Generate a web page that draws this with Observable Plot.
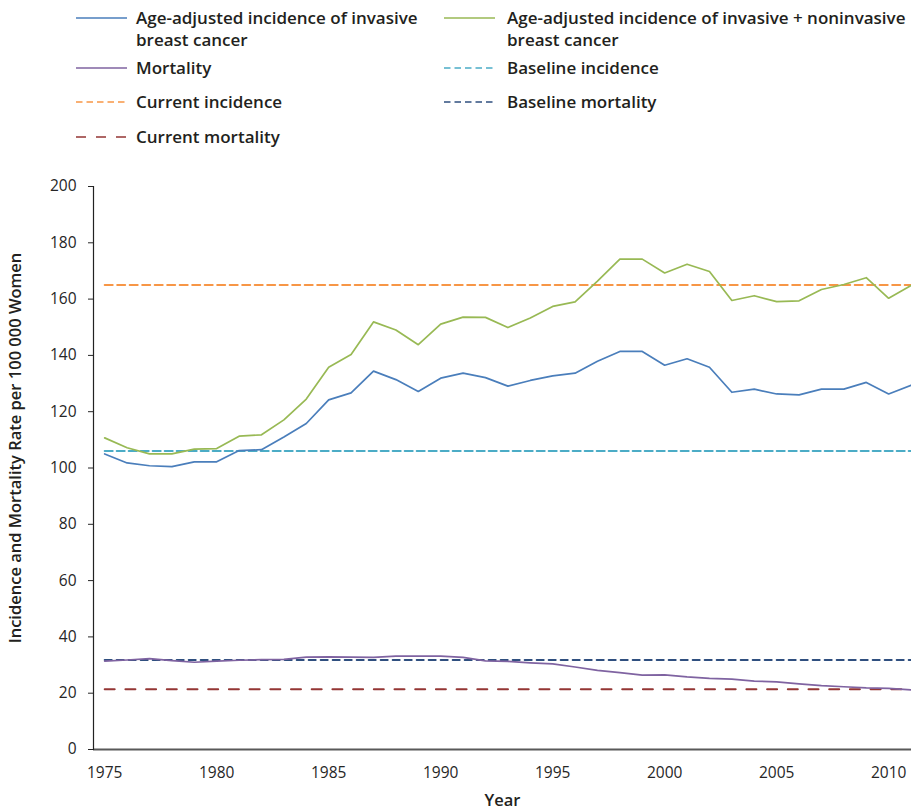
<!DOCTYPE html>
<html>
<head>
<meta charset="utf-8">
<script src="https://cdn.jsdelivr.net/npm/d3@7"></script>
<script src="https://cdn.jsdelivr.net/npm/@observablehq/plot@0.6"></script>
<style>
  body { margin: 0; background: #fff; font-family: "Open Sans", sans-serif; }
  #wrap { position: relative; width: 911px; height: 809px; overflow: hidden; }
  #legend { position: relative; width: 911px; height: 165px; }
  #chart svg { display: block; }
</style>
</head>
<body>
<div id="wrap">
  <div id="legend"></div>
  <div id="chart"></div>
</div>
<script>
// ---- data ----
const years = d3.range(1975, 2012); // 1975..2011
const invasive = [105.0, 101.8, 100.8, 100.5, 102.2, 102.2, 106.2, 106.5, 111.0, 115.8,
  124.2, 126.7, 134.4, 131.4, 127.2, 131.9, 133.7, 132.1, 129.1, 131.1,
  132.7, 133.7, 137.9, 141.4, 141.4, 136.5, 138.8, 135.8, 126.9, 128.0,
  126.3, 126.0, 128.0, 128.0, 130.4, 126.3, 129.4];
const invasiveNoninvasive = [110.7, 107.2, 105.0, 105.0, 106.7, 106.9, 111.3, 111.8, 117.1, 124.5,
  135.8, 140.3, 151.9, 149.0, 143.8, 151.1, 153.6, 153.5, 149.9, 153.3,
  157.4, 159.0, 166.4, 174.2, 174.2, 169.3, 172.4, 169.8, 159.5, 161.2,
  159.1, 159.4, 163.4, 165.2, 167.6, 160.3, 164.8];
const mortality = [31.4, 31.8, 32.3, 31.6, 31.0, 31.4, 31.7, 31.9, 32.0, 32.8,
  32.9, 32.8, 32.7, 33.2, 33.2, 33.2, 32.7, 31.5, 31.3, 30.8,
  30.4, 29.3, 28.1, 27.3, 26.4, 26.5, 25.8, 25.3, 25.0, 24.3,
  24.0, 23.3, 22.7, 22.3, 21.9, 21.7, 21.2];
const baselineIncidence = 106;
const currentIncidence = 165;
const baselineMortality = 31.8;
const currentMortality = 21.4;
const yTicks = [0, 20, 40, 60, 80, 100, 120, 140, 160, 180, 200];
const xTicks = [1975, 1980, 1985, 1990, 1995, 2000, 2005, 2010];

const seriesNames = [
  "Age-adjusted incidence of invasive\nbreast cancer",
  "Age-adjusted incidence of invasive + noninvasive\nbreast cancer",
  "Mortality",
  "Baseline incidence",
  "Current incidence",
  "Baseline mortality",
  "Current mortality"
];
const seriesColors = ["#4a7ebb", "#98b954", "#7f63a1", "#4bacc6", "#f79646", "#2f4f7f", "#943634"];
const seriesDash = [null, null, null, "8,4", "8,4.5", "7,5", "10,10.7"];
const legendDash = [null, null, null, "6.5,4", "6.5,4", "6.5,4", "10,10"];

// ---- legend ----
const legendPos = [
  {sx: 76, tx: 136, y: 18}, {sx: 444, tx: 507, y: 18},
  {sx: 76, tx: 136, y: 68}, {sx: 444, tx: 507, y: 68},
  {sx: 76, tx: 136, y: 102}, {sx: 444, tx: 507, y: 102},
  {sx: 76, tx: 136, y: 137}
];
const legend = document.getElementById("legend");
seriesNames.forEach((name, i) => {
  const p = legendPos[i];
  const sw = document.createElementNS("http://www.w3.org/2000/svg", "svg");
  sw.setAttribute("width", 52); sw.setAttribute("height", 6);
  sw.style.position = "absolute"; sw.style.left = p.sx + "px"; sw.style.top = (p.y - 3) + "px";
  const ln = document.createElementNS("http://www.w3.org/2000/svg", "line");
  ln.setAttribute("x1", 0); ln.setAttribute("x2", 51); ln.setAttribute("y1", 3); ln.setAttribute("y2", 3);
  ln.setAttribute("stroke", seriesColors[i]); ln.setAttribute("stroke-width", 1.6);
  if (legendDash[i]) ln.setAttribute("stroke-dasharray", legendDash[i]);
  sw.appendChild(ln);
  legend.appendChild(sw);
  const sp = document.createElement("span");
  sp.style.position = "absolute"; sp.style.left = p.tx + "px"; sp.style.top = (p.y - 11) + "px";
  sp.style.fontWeight = 600; sp.style.fontSize = "17px"; sp.style.lineHeight = "22px"; sp.style.color = "#231f20";
  sp.style.whiteSpace = "pre";
  sp.textContent = name;
  legend.appendChild(sp);
});

// ---- chart ----
const rows = years.map((yr, i) => ({year: yr, invasive: invasive[i], combined: invasiveNoninvasive[i], mortality: mortality[i]}));

const chart = Plot.plot({
  width: 911,
  height: 644,
  marginTop: 21,
  marginBottom: 60,
  marginLeft: 93,
  marginRight: 0,
  style: {fontFamily: "Open Sans, sans-serif", fontSize: "15.5px", color: "#262626", overflow: "hidden"},
  x: {domain: [1974.5, 2011.02], label: null},
  y: {domain: [0, 200], label: null},
  marks: [
    Plot.axisY({ticks: yTicks, tickSize: 5, tickPadding: 12, tickFormat: d => d, label: "Incidence and Mortality Rate per 100 000 Women",
      labelAnchor: "center", labelOffset: 84, labelArrow: "none"}),
    Plot.axisX({ticks: xTicks, tickSize: 0, tickPadding: 17, tickFormat: d => String(d), label: "Year",
      labelAnchor: "center", labelOffset: 56, labelArrow: "none"}),
    Plot.line(years, {x: d => d, y: () => baselineIncidence, stroke: seriesColors[3], strokeWidth: 2, strokeDasharray: seriesDash[3]}),
    Plot.line(years, {x: d => d, y: () => currentIncidence, stroke: seriesColors[4], strokeWidth: 2, strokeDasharray: seriesDash[4]}),
    Plot.line(years, {x: d => d, y: () => baselineMortality, stroke: seriesColors[5], strokeWidth: 2, strokeDasharray: seriesDash[5]}),
    Plot.line(years, {x: d => d, y: () => currentMortality, stroke: seriesColors[6], strokeWidth: 2, strokeDasharray: seriesDash[6]}),
    Plot.line(rows, {x: "year", y: "invasive", stroke: seriesColors[0], strokeWidth: 1.7}),
    Plot.line(rows, {x: "year", y: "combined", stroke: seriesColors[1], strokeWidth: 1.7}),
    Plot.line(rows, {x: "year", y: "mortality", stroke: seriesColors[2], strokeWidth: 1.7}),
    Plot.ruleY([0], {stroke: "#595959", strokeWidth: 2}),
    Plot.frame({anchor: "left", stroke: "#222", strokeWidth: 1.2})
  ]
});
// bold axis titles
chart.querySelectorAll("g[aria-label='y-axis label'] text, g[aria-label='x-axis label'] text").forEach(t => {
  t.style.fontWeight = 600; t.style.fontSize = "16.5px"; t.style.fill = "#231f20";
});
// y title sits a little above the plot centre in the reference
const yLab = chart.querySelector("g[aria-label='y-axis label']");
if (yLab) {
  const tr = yLab.getAttribute("transform") || "";
  yLab.setAttribute("transform", "translate(0,-20) " + tr);
}
document.getElementById("chart").appendChild(chart);
</script>
</body>
</html>
